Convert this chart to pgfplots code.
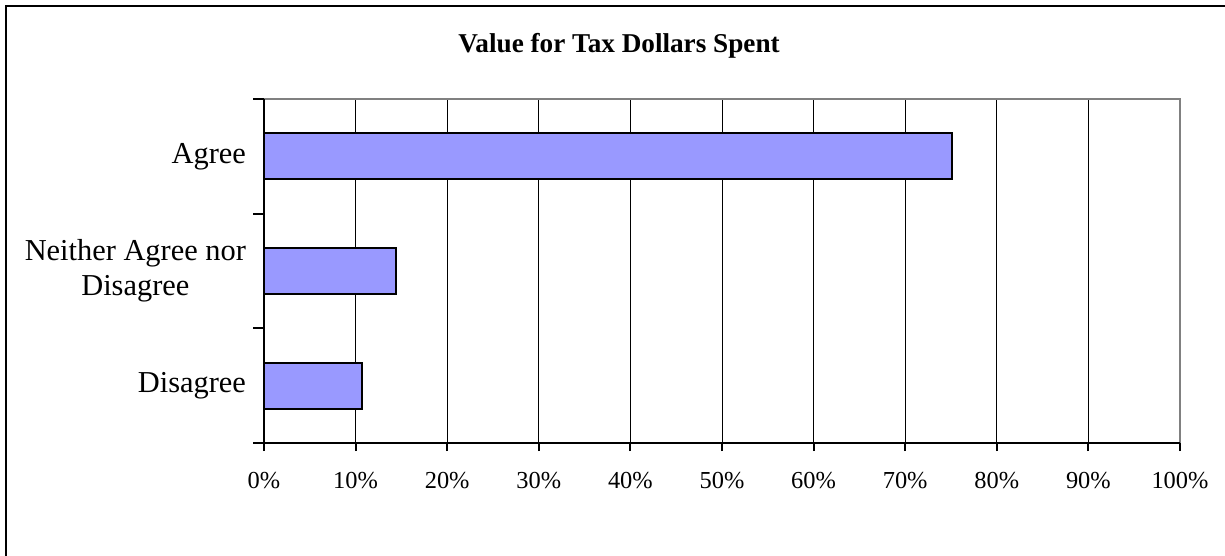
\documentclass[border=0pt]{standalone}
\usepackage{pgfplots}
\pgfplotsset{compat=1.18}
\usepackage{fontspec}
\setmainfont{Liberation Serif}
\definecolor{barblue}{HTML}{9999FF}
\definecolor{axgray}{HTML}{808080}
\begin{document}
\begin{tikzpicture}
\path[use as bounding box] (0pt,0pt) rectangle (612.5pt,-278pt);
\draw[line width=1pt] (3pt,-285pt) -- (3pt,-3pt) -- (620pt,-3pt);
\node[font=\bfseries\fontsize{13.6}{16}\selectfont] at (309.5pt,-23pt) {Value for Tax Dollars Spent};
\begin{axis}[
  at={(132pt,-221.5pt)}, anchor=south west,
  scale only axis, width=458pt, height=172pt,
  xmin=0, xmax=100, ymin=-0.5, ymax=2.5,
  axis line style={draw=none},
  clip=false,
  xbar, bar width=0.4,
  xtick={0,10,...,100},
  xticklabels={0\%,10\%,20\%,30\%,40\%,50\%,60\%,70\%,80\%,90\%,100\%},
  xticklabel style={font=\fontsize{12.2}{14}\selectfont, yshift=-7pt},
  xtick pos=bottom,
  tick align=outside,
  major tick length=4pt,
  major x tick style={black, line width=1pt},
  xmajorgrids=true,
  major x grid style={black, line width=0.5pt},
  ytick={0,1,2},
  yticklabels={Disagree,{Neither Agree nor\\Disagree},Agree},
  yticklabel style={font=\fontsize{15.2}{17.5}\selectfont, align=center, xshift=-1.5pt},
  ytick pos=left,
  major y tick style={draw=none},
  minor ytick={-0.5,0.5,1.5,2.5},
  minor tick length=5.5pt,
  minor y tick style={black, line width=1pt},
]
\addplot[fill=barblue, draw=black, line width=1pt] coordinates {(10.7,0) (14.4,1) (75.1,2)};
\draw[axgray, line width=1pt] (rel axis cs:0,1) -- (rel axis cs:1,1) -- (rel axis cs:1,0);
\draw[black, line width=1pt] (rel axis cs:0,1) -- (rel axis cs:0,0) -- (rel axis cs:1,0);
\end{axis}
\end{tikzpicture}
\end{document}
